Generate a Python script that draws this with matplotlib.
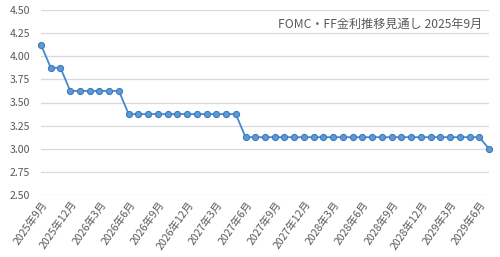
import matplotlib
matplotlib.use("Agg")
import matplotlib.pyplot as plt

plt.rcParams['font.family'] = ['Noto Sans CJK JP', 'DejaVu Sans']

# monthly labels from 2025-09 to 2029-07
months = []
y, m = 2025, 9
for _ in range(47):
    months.append(f"{y}年{m}月")
    m += 1
    if m > 12:
        m = 1
        y += 1

rates = ([4.125] + [3.875] * 2 + [3.625] * 6 + [3.375] * 12 + [3.125] * 25 + [3.00])
title = "FOMC・FF金利推移見通し 2025年9月"
yticks = [2.50, 2.75, 3.00, 3.25, 3.50, 3.75, 4.00, 4.25, 4.50]

fig = plt.figure(figsize=(5.0, 2.57), dpi=100)
ax = fig.add_axes([41/500, 1 - 195/257, (489 - 41)/500, (195 - 10)/257])

x = list(range(len(rates)))
ax.plot(x, rates, color='#4a86cf', lw=1.3, marker='o', ms=4.4,
        mfc='#5b9bd5', mec='#3f78c0', mew=0.8, clip_on=False, zorder=3)

ax.set_xlim(0, len(rates) - 1)
ax.set_ylim(2.5, 4.5)
ax.set_yticks(yticks)
ax.set_yticklabels([f"{v:.2f}" for v in yticks])
ax.grid(axis='y', color='#d9d9d9', lw=0.9)
ax.set_axisbelow(True)
for s in ax.spines.values():
    s.set_visible(False)

ticks = x[::3]
ax.set_xticks(ticks)
ax.set_xticklabels([months[i] for i in ticks], rotation=55, ha='right',
                   rotation_mode='anchor')
ax.tick_params(axis='both', length=0, labelsize=7.6, colors='#595959')
ax.tick_params(axis='y', pad=8)
ax.tick_params(axis='x', pad=3)

ax.text(0.985, 0.955, title, transform=ax.transAxes, ha='right', va='top',
        fontsize=8.7, color='#595959')

fig.savefig('out.png', dpi=100)
